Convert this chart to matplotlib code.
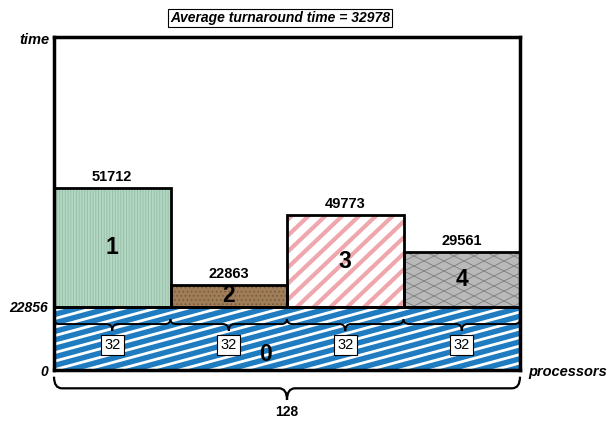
import numpy as np
import matplotlib
matplotlib.use('Agg')
import matplotlib.pyplot as plt
from matplotlib.path import Path
from matplotlib.patches import PathPatch
from matplotlib.collections import LineCollection

plt.rcParams['font.family'] = ['Liberation Sans', 'DejaVu Sans']
plt.rcParams['hatch.linewidth'] = 0.6

# jobs, processors used and turnaround times
jobs = ['0', '1', '2', '3', '4']
procs = [128, 32, 32, 32, 32]
turnaround = [22856, 51712, 22863, 49773, 29561]
avg_turnaround = 32978
total_procs = 128

# schematic time axis (heights are illustrative, not proportional)
axis_times = [0, 22856, 22863, 29561, 49773, 51712, 90000]
axis_units = [0, 63, 85, 118, 155, 182, 333]


def fwd(v):
    return np.interp(v, axis_times, axis_units)


def inv(u):
    return np.interp(u, axis_units, axis_times)


fig = plt.figure(figsize=(6.1, 4.22), dpi=100)
ax = fig.add_axes([54 / 610, 52 / 422, 466 / 610, 333 / 422])
ax.set_yscale('function', functions=(fwd, inv))
ax.set_xlim(0, total_procs)
ax.set_ylim(0, axis_times[-1])

W, H = 466, 333  # axes size in pixels


def stripes(patch, slope, gap, color, lw):
    # straight stripes given in pixel slope / spacing, clipped to a bar
    k = slope * W / H
    g = gap / H
    offs = np.arange(-abs(k) - 1, 1 + abs(k) + 1, g)
    segs = [[(0, o), (1, o + k)] for o in offs]
    lc = LineCollection(segs, colors=color, linewidths=lw,
                        transform=ax.transAxes, zorder=patch.get_zorder() + 0.1)
    ax.add_collection(lc, autolim=False)
    lc.set_clip_path(patch)


def brace(x0, x1, ytop, ymid, ybot, r=2.0, lw=1.6):
    # curly brace pointing down; x in data, y in axes fraction
    xm = (x0 + x1) / 2
    verts = [(x0, ytop), (x0, ymid), (x0 + r, ymid),
             (xm - r, ymid),
             (xm, ymid), (xm, ybot),
             (xm, ymid), (xm + r, ymid),
             (x1 - r, ymid),
             (x1, ymid), (x1, ytop)]
    codes = [Path.MOVETO, Path.CURVE3, Path.CURVE3,
             Path.LINETO,
             Path.CURVE3, Path.CURVE3,
             Path.CURVE3, Path.CURVE3,
             Path.LINETO,
             Path.CURVE3, Path.CURVE3]
    ax.add_patch(PathPatch(Path(verts, codes), fill=False, lw=lw, color='black',
                           transform=ax.get_xaxis_transform(), clip_on=False, zorder=6))


base = turnaround[0]
lefts = [0] + [32 * i for i in range(4)]
bottoms = [0] + [base] * 4
heights = [turnaround[0]] + [t - base for t in turnaround[1:]]

faces = ['#1f7cc0', '#b4d7c3', '#a07d59', 'white', '#b9b9b9']
hatch_col = [None, '#93bda4', '#76573a', None, None]
hatches = [None, '||||||', '....', None, None]

fills = []
for i in range(5):
    b = ax.bar(lefts[i], heights[i], width=procs[i], bottom=bottoms[i], align='edge',
               color=faces[i], edgecolor=hatch_col[i] or 'none', linewidth=0,
               hatch=hatches[i], zorder=2)
    fills.append(b[0])

stripes(fills[0], 0.27, 8.5, 'white', 2.0)
stripes(fills[3], 0.95, 16, '#efa6ac', 3.0)
stripes(fills[4], 0.5, 10, '#7c7c7c', 0.6)
stripes(fills[4], -0.5, 10, '#7c7c7c', 0.6)

# bar outlines
ax.bar(lefts, heights, width=procs, bottom=bottoms, align='edge',
       fill=False, edgecolor='black', linewidth=2.0, zorder=4)

# job ids and turnaround values
for i in range(5):
    lo, hi = fwd(bottoms[i]), fwd(bottoms[i] + heights[i])
    if i == 0:
        xc, yc = 58, inv(lo + 0.25 * (hi - lo))
    else:
        xc, yc = lefts[i] + procs[i] / 2, inv((lo + hi) / 2)
        ax.annotate(str(turnaround[i]), (xc, bottoms[i] + heights[i]),
                    xytext=(0, 3), textcoords='offset points', ha='center', va='bottom',
                    fontsize=10.5, fontweight='bold', zorder=6)
    ax.text(xc, yc, jobs[i], ha='center', va='center', fontsize=16.5,
            fontweight='bold', zorder=6)

# processor braces
for i in range(1, 5):
    brace(lefts[i], lefts[i] + procs[i], 0.153, 0.138, 0.118, r=1.6, lw=1.4)
    ax.text(lefts[i] + procs[i] / 2, 0.075, str(procs[i]), transform=ax.get_xaxis_transform(),
            ha='center', va='center', fontsize=10.5, zorder=7,
            bbox=dict(boxstyle='square,pad=0.22', fc='white', ec='black', lw=0.8))
brace(0, total_procs, -0.02, -0.055, -0.09, r=2.2, lw=1.6)
ax.text(total_procs / 2, -0.125, str(total_procs), transform=ax.get_xaxis_transform(),
        ha='center', va='center', fontsize=10, fontweight='bold')

# axes frame and labels
for s in ax.spines.values():
    s.set_linewidth(2.5)
    s.set_zorder(5)
ax.set_xticks([])
ax.set_yticks([0, base])
ax.set_yticklabels(['0', str(base)], fontsize=10, fontweight='bold', style='italic')
ax.yaxis.set_minor_locator(matplotlib.ticker.NullLocator())
ax.tick_params(axis='y', length=0, pad=4)

fig.text(50 / 610, 1 - 40 / 422, 'time', ha='right', va='center',
         fontsize=10.5, fontweight='bold', style='italic')
fig.text(528 / 610, 1 - 372 / 422, 'processors', ha='left', va='center',
         fontsize=10.5, fontweight='bold', style='italic')
fig.text(280 / 610, 1 - 18 / 422, f'Average turnaround time = {avg_turnaround}',
         ha='center', va='center', fontsize=10, fontweight='bold', style='italic',
         bbox=dict(boxstyle='square,pad=0.15', fc='white', ec='black', lw=0.8))

fig.savefig('out.png', dpi=100)
